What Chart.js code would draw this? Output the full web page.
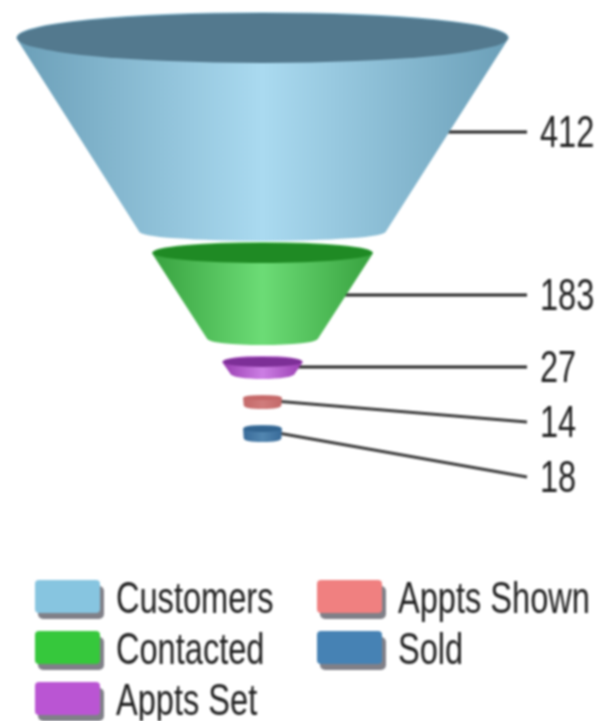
<!DOCTYPE html>
<html>
<head>
<meta charset="utf-8">
<title>Sales funnel</title>
<style>
    html, body { margin: 0; padding: 0; background: #fff; }
    #funnel { display: block; filter: blur(0.8px); }
</style>
<script src="https://cdn.jsdelivr.net/npm/chart.js@4"></script>
</head>
<body>
<canvas id="funnel" width="598" height="721"></canvas>
<script>
    // data
    const categories = ['Customers', 'Contacted', 'Appts Set', 'Appts Shown', 'Sold'];
    const values = [412, 183, 27, 14, 18];
    // drawn widths of each slice, in x scale units (small slices are not to scale in the original)
    const topWidths = [412, 184, 66, 31, 31];
    const bottomWidths = [206, 92, 53, 30, 30];
    // where each slice starts and ends going down the funnel, y scale units
    const topDepths = [38, 253, 362, 398, 429];
    const bottomDepths = [231, 338, 373, 405, 438];
    const labelDepths = [132, 295, 367, 422, 477];

    const colors = ['#87c5e0', '#36c83c', '#ba55d3', '#f08080', '#4682b4'];
    const edgeColors = ['#6b9fb8', '#38a23f', '#9a3fb2', '#c46a6a', '#3a6c9a'];
    const centerColors = ['#aadaf0', '#6cdc76', '#cc7ee4', '#d07c7c', '#5286b0'];
    const mouthColors = ['#53798e', '#1f8a24', '#7d2f97', '#c56868', '#326490'];
    const mouthHeights = [25, 10, 5, 2, 3];
    const lipHeights = [9, 6, 5, 3, 3];

    function fitText(ctx, text, x, y) {
        // the original is squeezed sideways, so condense the glyphs the same way
        ctx.save();
        ctx.translate(x, y);
        ctx.scale(0.74, 1);
        ctx.fillText(text, 0, 0);
        ctx.restore();
    }

    const funnelPlugin = {
        id: 'funnel',
        afterDatasetsDraw(chart) {
            const ctx = chart.ctx;
            const cx = chart.scales.x.getPixelForValue(0);
            const tops = chart.getDatasetMeta(0).data;
            const bottoms = chart.getDatasetMeta(1).data;

            categories.forEach((name, i) => {
                const topHalf = tops[i].x - cx;
                const botHalf = bottoms[i].x - cx;
                const topY = tops[i].y;
                const botY = bottoms[i].y;

                // leader line from the side to the value label, flat when it nearly is
                const endY = chart.scales.y.getPixelForValue(labelDepths[i]);
                const midY = (topY + botY) / 2;
                const startY = Math.abs(midY - endY) < 6 ? endY : midY;
                ctx.beginPath();
                ctx.moveTo(cx + (topHalf + botHalf) / 2, startY);
                ctx.lineTo(527, endY);
                ctx.lineWidth = 3;
                ctx.strokeStyle = i > 2 ? '#3c3c3c' : '#262626';
                ctx.stroke();

                // body
                const grad = ctx.createLinearGradient(cx - topHalf, 0, cx + topHalf, 0);
                grad.addColorStop(0, edgeColors[i]);
                grad.addColorStop(0.5, centerColors[i]);
                grad.addColorStop(1, edgeColors[i]);
                ctx.beginPath();
                ctx.moveTo(cx - topHalf, topY);
                ctx.lineTo(cx - botHalf, botY);
                ctx.ellipse(cx, botY, botHalf, lipHeights[i], 0, Math.PI, 0, true);
                ctx.lineTo(cx + topHalf, topY);
                ctx.ellipse(cx, topY, topHalf, mouthHeights[i], 0, 0, Math.PI, true);
                ctx.closePath();
                ctx.fillStyle = grad;
                ctx.fill();
                // rounds off the bottom corners
                ctx.lineJoin = 'round';
                ctx.lineWidth = 2;
                ctx.strokeStyle = grad;
                ctx.stroke();

                // dark top opening
                ctx.beginPath();
                ctx.ellipse(cx, topY, topHalf, mouthHeights[i], 0, 0, Math.PI * 2);
                ctx.fillStyle = mouthColors[i];
                ctx.fill();

                // value label
                ctx.fillStyle = '#222';
                ctx.font = '44px "Liberation Sans"';
                ctx.textAlign = 'left';
                ctx.textBaseline = 'alphabetic';
                fitText(ctx, String(values[i]), 540, endY + 15);
            });

            // legend, filled column by column like the original
            categories.forEach((name, i) => {
                const col = i < 3 ? 0 : 1;
                const row = col === 0 ? i : i - 3;
                const x = col === 0 ? 35 : 317;
                const y = 580 + row * 51;
                ctx.fillStyle = '#808088';
                ctx.beginPath();
                ctx.roundRect(x + 3, y + 6, 66, 33, 5);
                ctx.fill();
                ctx.fillStyle = colors[i];
                ctx.beginPath();
                ctx.roundRect(x, y, 65, 33, 4);
                ctx.fill();
                ctx.fillStyle = '#222';
                ctx.font = '44px "Liberation Sans"';
                fitText(ctx, name, x + 81, y + 33);
            });
        }
    };

    new Chart(document.getElementById('funnel'), {
        type: 'scatter',
        data: {
            labels: categories,
            datasets: [
                {
                    label: 'slice top',
                    data: topWidths.map((w, i) => ({ x: w / 2, y: topDepths[i] })),
                    pointRadius: 0
                },
                {
                    label: 'slice bottom',
                    data: bottomWidths.map((w, i) => ({ x: w / 2, y: bottomDepths[i] })),
                    pointRadius: 0
                }
            ]
        },
        options: {
            responsive: false,
            animation: false,
            layout: { padding: 0 },
            plugins: {
                legend: { display: false },
                tooltip: { enabled: false }
            },
            scales: {
                x: { display: false, min: -220.6, max: 281.9 },
                y: { display: false, reverse: true, min: 0, max: 721 }
            }
        },
        plugins: [funnelPlugin]
    });
</script>
</body>
</html>
